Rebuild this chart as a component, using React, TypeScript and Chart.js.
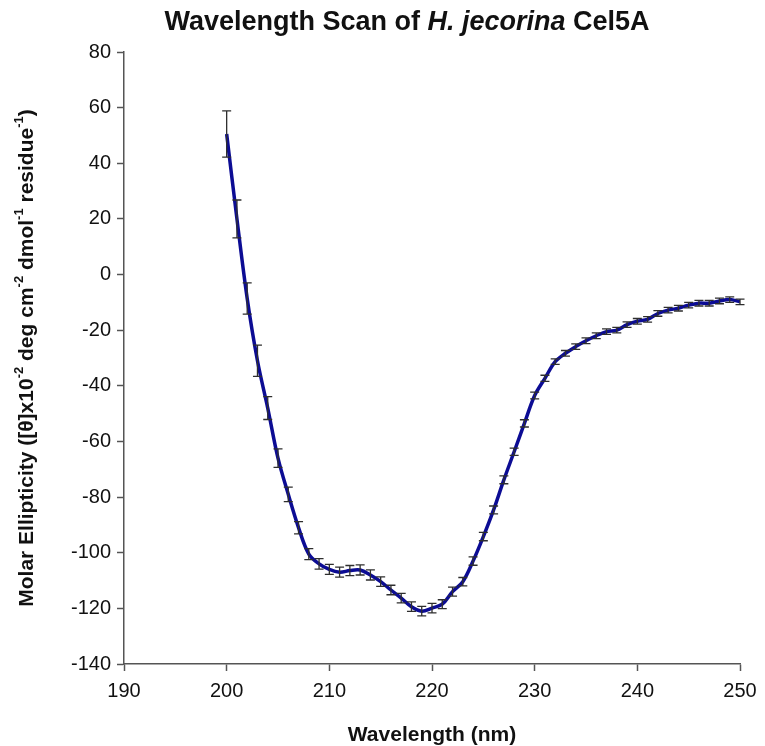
import React, { useEffect, useRef } from 'react';
import { Chart, registerables } from 'chart.js';

Chart.register(...registerables);

// Wavelength (nm)
const wavelengths = [
  200, 201, 202, 203, 204, 205, 206, 207, 208, 209,
  210, 211, 212, 213, 214, 215, 216, 217, 218, 219,
  220, 221, 222, 223, 224, 225, 226, 227, 228, 229,
  230, 231, 232, 233, 234, 235, 236, 237, 238, 239,
  240, 241, 242, 243, 244, 245, 246, 247, 248, 249, 250,
];

// Molar ellipticity ([θ] x10^-2 deg cm^2 dmol^-1 residue^-1)
const ellipticity = [
  50.5, 20.0, -8.6, -31.0, -48.0, -66.0, -79.0, -91.0, -100.5, -104.0,
  -106.0, -107.0, -106.4, -106.2, -108.0, -110.4, -113.4, -116.3, -119.4, -121.0,
  -119.9, -118.5, -114.0, -110.4, -103.0, -94.2, -84.6, -73.8, -63.7, -53.5,
  -43.5, -37.3, -31.3, -28.3, -25.9, -23.8, -22.0, -20.5, -20.0, -18.0,
  -16.8, -16.1, -14.0, -12.8, -12.1, -11.0, -10.3, -10.3, -9.5, -9.0, -9.8,
];

// Error (±)
const errors = [
  8.3, 6.8, 5.6, 5.6, 4.1, 3.3, 2.6, 2.2, 2.0, 1.9,
  1.8, 1.8, 1.8, 1.8, 1.8, 1.7, 1.7, 1.7, 1.7, 1.7,
  1.7, 1.6, 1.6, 1.5, 1.5, 1.5, 1.4, 1.4, 1.3, 1.3,
  1.2, 1.1, 1.0, 1.0, 1.0, 1.0, 1.0, 1.0, 1.0, 1.0,
  1.0, 1.0, 1.0, 1.0, 1.0, 1.0, 1.0, 1.0, 1.0, 1.0, 1.0,
];

const titleSegments = [
  { text: 'Wavelength Scan of ', italic: false, sup: false },
  { text: 'H. jecorina', italic: true, sup: false },
  { text: ' Cel5A', italic: false, sup: false },
];

const yLabelSegments = [
  { text: 'Molar Ellipticity ([θ]x10', italic: false, sup: false },
  { text: '-2', italic: false, sup: true },
  { text: ' deg cm', italic: false, sup: false },
  { text: '-2', italic: false, sup: true },
  { text: ' dmol', italic: false, sup: false },
  { text: '-1', italic: false, sup: true },
  { text: ' residue', italic: false, sup: false },
  { text: '-1', italic: false, sup: true },
  { text: ')', italic: false, sup: false },
];

const xLabel = 'Wavelength (nm)';

const FAMILY = '"Liberation Sans", Arial, Helvetica, sans-serif';

type Seg = { text: string; italic: boolean; sup: boolean };

function segFont(s: Seg, size: number) {
  const sz = s.sup ? Math.round(size * 0.62) : size;
  return `${s.italic ? 'italic ' : ''}bold ${sz}px ${FAMILY}`;
}

function drawRich(
  ctx: CanvasRenderingContext2D,
  segs: Seg[],
  cx: number,
  cy: number,
  size: number,
  rotate: boolean
) {
  ctx.save();
  ctx.translate(cx, cy);
  if (rotate) ctx.rotate(-Math.PI / 2);
  let total = 0;
  const widths = segs.map((s) => {
    ctx.font = segFont(s, size);
    const w = ctx.measureText(s.text).width;
    total += w;
    return w;
  });
  let x = -total / 2;
  ctx.fillStyle = '#111';
  ctx.textBaseline = 'middle';
  ctx.textAlign = 'left';
  segs.forEach((s, i) => {
    ctx.font = segFont(s, size);
    ctx.fillText(s.text, x, s.sup ? -size * 0.38 : 0);
    x += widths[i];
  });
  ctx.restore();
}

const textPlugin = {
  id: 'customText',
  afterDraw(chart: any) {
    const { ctx, chartArea } = chart;
    drawRich(ctx, titleSegments, 407, 23, 27, false);
    drawRich(ctx, yLabelSegments, 27, (chartArea.top + chartArea.bottom) / 2, 21, true);
    ctx.save();
    ctx.font = `bold 21px ${FAMILY}`;
    ctx.fillStyle = '#111';
    ctx.textAlign = 'center';
    ctx.textBaseline = 'middle';
    ctx.fillText(xLabel, (chartArea.left + chartArea.right) / 2, 735);
    ctx.restore();
  },
};

const errorBarPlugin = {
  id: 'errorBars',
  afterDatasetsDraw(chart: any) {
    const { ctx, scales } = chart;
    const xs = scales.x;
    const ys = scales.y;
    ctx.save();
    ctx.strokeStyle = '#2e2e2e';
    ctx.lineWidth = 1.3;
    wavelengths.forEach((w, i) => {
      const px = xs.getPixelForValue(w);
      const top = ys.getPixelForValue(ellipticity[i] + errors[i]);
      const bot = ys.getPixelForValue(ellipticity[i] - errors[i]);
      ctx.beginPath();
      ctx.moveTo(px, top);
      ctx.lineTo(px, bot);
      ctx.moveTo(px - 4.5, top);
      ctx.lineTo(px + 4.5, top);
      ctx.moveTo(px - 4.5, bot);
      ctx.lineTo(px + 4.5, bot);
      ctx.stroke();
    });
    ctx.restore();
  },
};

export default function App() {
  const ref = useRef<HTMLCanvasElement | null>(null);

  useEffect(() => {
    if (!ref.current) return;
    const chart = new Chart(ref.current, {
      type: 'line',
      data: {
        datasets: [
          {
            data: wavelengths.map((w, i) => ({ x: w, y: ellipticity[i] })),
            borderColor: '#0c0c94',
            borderWidth: 3.5,
            pointRadius: 0,
            tension: 0.35,
            fill: false,
          },
        ],
      },
      options: {
        animation: false,
        responsive: false,
        maintainAspectRatio: false,
        layout: { padding: { top: 52, right: 25, left: 0, bottom: 0 } },
        plugins: {
          legend: { display: false },
          tooltip: { enabled: false },
          title: { display: false },
        },
        scales: {
          x: {
            type: 'linear',
            min: 190,
            max: 250,
            ticks: {
              stepSize: 10,
              color: '#111',
              font: { family: FAMILY, size: 20 },
              padding: 8,
            },
            grid: {
              drawOnChartArea: false,
              drawTicks: true,
              tickLength: 7,
              tickColor: '#555',
              tickWidth: 1.5,
            },
            border: { color: '#555', width: 1.5 },
            afterFit(scale: any) {
              scale.height = 82;
            },
          },
          y: {
            type: 'linear',
            min: -140,
            max: 80,
            ticks: {
              stepSize: 20,
              color: '#111',
              font: { family: FAMILY, size: 20 },
              padding: 6,
            },
            grid: {
              drawOnChartArea: false,
              drawTicks: true,
              tickLength: 7,
              tickColor: '#555',
              tickWidth: 1.5,
            },
            border: { color: '#555', width: 1.5 },
            afterFit(scale: any) {
              scale.width = 124;
            },
          },
        },
      },
      plugins: [errorBarPlugin, textPlugin],
    });
    return () => chart.destroy();
  }, []);

  return (
    <div style={{ position: 'absolute', left: 0, top: 0, width: 765, height: 746, background: '#fff' }}>
      <canvas ref={ref} width={765} height={746} style={{ width: 765, height: 746, display: 'block' }} />
    </div>
  );
}
